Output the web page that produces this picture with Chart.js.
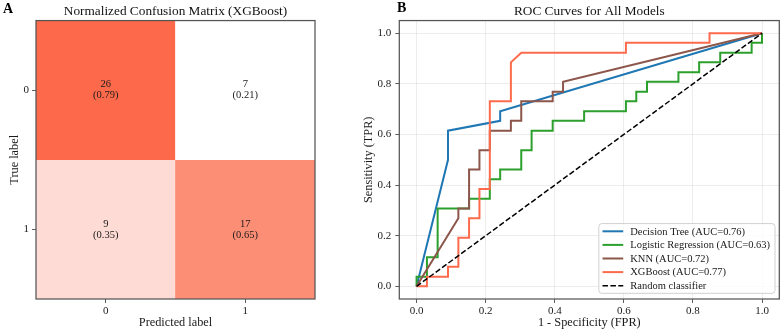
<!DOCTYPE html>
<html><head><meta charset="utf-8">
<script src="https://cdn.jsdelivr.net/npm/chart.js@4.4.1/dist/chart.umd.min.js"></script>
<style>
html,body{margin:0;padding:0;background:#fff;width:782px;height:332px;overflow:hidden}
canvas{position:absolute;top:0}
#cm{left:0;width:360px;height:332px}
#roc{left:360px;width:422px;height:332px}
</style></head><body>
<canvas id="cm" width="360" height="332"></canvas>
<canvas id="roc" width="422" height="332"></canvas>
<script>
// ---------- data: confusion matrix ----------
const cmLabels = ['0', '1'];
const cmTrue   = [0, 0, 1, 1];
const cmPred   = [0, 1, 0, 1];
const cmCounts = [26, 7, 9, 17];
const cmRates  = [0.79, 0.21, 0.35, 0.65];
const cmTitle  = 'Normalized Confusion Matrix (XGBoost)';

// ---------- data: ROC curves ----------
const rocTicks = [0, 0.2, 0.4, 0.6, 0.8, 1.0];
const dtFpr  = [0, 0.091, 0.091, 0.242, 0.242, 1];
const dtTpr  = [0, 0.5, 0.615, 0.654, 0.692, 1];
const lrFpr  = [0, 0, 0.030, 0.030, 0.061, 0.061, 0.152, 0.152, 0.212, 0.212, 0.242, 0.242, 0.303, 0.303, 0.333, 0.333, 0.394, 0.394, 0.485, 0.485, 0.606, 0.606, 0.636, 0.636, 0.667, 0.667, 0.758, 0.758, 0.818, 0.818, 0.879, 0.879, 0.970, 0.970, 1, 1];
const lrTpr  = [0, 0.038, 0.038, 0.115, 0.115, 0.308, 0.308, 0.346, 0.346, 0.423, 0.423, 0.462, 0.462, 0.538, 0.538, 0.615, 0.615, 0.654, 0.654, 0.692, 0.692, 0.731, 0.731, 0.769, 0.769, 0.808, 0.808, 0.846, 0.846, 0.885, 0.885, 0.923, 0.923, 0.962, 0.962, 1];
const knnFpr = [0, 0.121, 0.121, 0.152, 0.152, 0.182, 0.182, 0.212, 0.212, 0.273, 0.273, 0.303, 0.303, 0.394, 0.394, 0.424, 0.424, 1];
const knnTpr = [0, 0.269, 0.308, 0.308, 0.462, 0.462, 0.538, 0.538, 0.615, 0.615, 0.654, 0.654, 0.731, 0.731, 0.769, 0.769, 0.808, 1];
const xgbFpr = [0, 0.030, 0.030, 0.091, 0.091, 0.121, 0.121, 0.152, 0.152, 0.182, 0.182, 0.212, 0.212, 0.273, 0.273, 0.303, 0.606, 0.606, 0.848, 0.848, 1];
const xgbTpr = [0, 0, 0.038, 0.038, 0.077, 0.077, 0.192, 0.192, 0.269, 0.269, 0.385, 0.385, 0.731, 0.731, 0.885, 0.923, 0.923, 0.962, 0.962, 1, 1];
const randFpr = [0, 1];
const randTpr = [0, 1];
const modelNames = ['Decision Tree (AUC=0.76)', 'Logistic Regression (AUC=0.63)', 'KNN (AUC=0.72)', 'XGBoost (AUC=0.77)', 'Random classifier'];
const rocTitle = 'ROC Curves for All Models';

// ---------- styles ----------
const FONT = "'Liberation Serif','Times New Roman',serif";
const TXT = '#1a1a1a';
const CM_LOW = [255, 255, 255], CM_HIGH = [252, 106, 75];
const SPINE = '#555555';

function cmColor(v) {
  const lo = Math.min(...cmRates), hi = Math.max(...cmRates);
  const t = (v - lo) / (hi - lo);
  return 'rgb(' + CM_LOW.map((c, i) => Math.round(c + (CM_HIGH[i] - c) * t)).join(',') + ')';
}
const pts = (xs, ys) => xs.map((x, i) => ({x: x, y: ys[i]}));

const framePlugin = {
  id: 'frame',
  afterDatasetsDraw(chart) {
    const {ctx, chartArea: a} = chart;
    ctx.save();
    ctx.strokeStyle = SPINE; ctx.lineWidth = 1.25;
    ctx.strokeRect(a.left, a.top, a.right - a.left, a.bottom - a.top);
    ctx.restore();
  }
};
function panelLetter(letter, x, y) {
  return {
    id: 'letter' + letter,
    afterDraw(chart) {
      const ctx = chart.ctx;
      ctx.save();
      ctx.font = 'bold 14px ' + FONT; ctx.fillStyle = '#000';
      ctx.textAlign = 'left'; ctx.textBaseline = 'middle';
      ctx.fillText(letter, x, y);
      ctx.restore();
    }
  };
}

// ---------- confusion matrix ----------
const cmDatasets = cmLabels.map((_, r) => {
  const idx = cmTrue.map((t, i) => i).filter(i => cmTrue[i] === r);
  return {
    data: idx.map(i => ({x: cmLabels[cmPred[i]], y: [cmTrue[i] - 0.5, cmTrue[i] + 0.5]})),
    backgroundColor: idx.map(i => cmColor(cmRates[i])),
    borderWidth: 0, barPercentage: 1, categoryPercentage: 1, grouped: false
  };
});
const cmTextPlugin = {
  id: 'cmText',
  afterDatasetsDraw(chart) {
    const ctx = chart.ctx, xs = chart.scales.x, ys = chart.scales.y;
    ctx.save();
    ctx.font = '10.5px ' + FONT; ctx.fillStyle = TXT;
    ctx.textAlign = 'center'; ctx.textBaseline = 'middle';
    cmCounts.forEach((c, i) => {
      const px = xs.getPixelForValue(cmPred[i]);
      const py = ys.getPixelForValue(cmTrue[i]);
      ctx.fillText(String(c), px, py - 5.5);
      ctx.fillText('(' + cmRates[i].toFixed(2) + ')', px, py + 5.5);
    });
    ctx.restore();
  }
};
new Chart(document.getElementById('cm'), {
  type: 'bar',
  data: {labels: cmLabels, datasets: cmDatasets},
  options: {
    responsive: false, animation: false, devicePixelRatio: 1,
    layout: {padding: {left: 0, right: 45, top: 0, bottom: 0}},
    plugins: {
      legend: {display: false}, tooltip: {enabled: false},
      title: {display: true, text: cmTitle, fullSize: false, color: '#111',
        font: {family: FONT, size: 13.3, weight: 'normal', lineHeight: 1.17}, padding: {top: 4, bottom: 1}}
    },
    scales: {
      x: {
        type: 'category', offset: true,
        grid: {display: true, drawOnChartArea: false, offset: false, tickLength: 4, tickColor: '#333', tickWidth: 0.8},
        border: {display: false},
        ticks: {color: TXT, font: {family: FONT, size: 11}, padding: 2, maxRotation: 0},
        title: {display: true, text: 'Predicted label', color: TXT, font: {family: FONT, size: 12.3}, padding: {top: 0, bottom: 2}},
        afterFit(s) { s.height = 33; }
      },
      y: {
        type: 'linear', min: -0.5, max: 1.5, reverse: true,
        afterBuildTicks(s) { s.ticks = cmLabels.map((l, i) => ({value: i})); },
        grid: {display: true, drawOnChartArea: false, tickLength: 4, tickColor: '#333', tickWidth: 0.8},
        border: {display: false},
        ticks: {color: TXT, font: {family: FONT, size: 11}, padding: 3, callback: v => cmLabels[v]},
        title: {display: true, text: 'True label', color: TXT, font: {family: FONT, size: 12.3}, padding: {top: 7, bottom: 0}},
        afterFit(s) { s.width = 36; }
      }
    }
  },
  plugins: [cmTextPlugin, framePlugin, panelLetter('A', 3, 9)]
});

// ---------- ROC ----------
const rocColors = ['#1f77b4', '#2ca02c', '#8c564b', '#fd6b4c', '#000000'];
const rocSeries = [[dtFpr, dtTpr], [lrFpr, lrTpr], [knnFpr, knnTpr], [xgbFpr, xgbTpr], [randFpr, randTpr]];
const rocDatasets = rocSeries.map((s, i) => ({
  label: modelNames[i],
  data: pts(s[0], s[1]),
  showLine: true, fill: false, tension: 0,
  borderColor: rocColors[i], backgroundColor: rocColors[i],
  borderWidth: i === 4 ? 1.5 : 2,
  borderDash: i === 4 ? [5.5, 2.4] : [],
  pointRadius: 0, pointHoverRadius: 0,
  order: rocSeries.length - i
}));
const legendPlugin = {
  id: 'innerLegend',
  afterDraw(chart) {
    const {ctx, chartArea: a} = chart;
    const ds = chart.data.datasets;
    ctx.save();
    ctx.font = '10.5px ' + FONT;
    const maxW = Math.max(...ds.map(d => ctx.measureText(d.label).width));
    const w = 31.4 + maxW + 5, h = 69.7;
    const right = a.right - 4.3, bottom = a.bottom - 5.7;
    const left = right - w, top = bottom - h;
    ctx.beginPath();
    ctx.roundRect(left, top, w, h, 3);
    ctx.fillStyle = 'rgba(255,255,255,0.85)'; ctx.fill();
    ctx.strokeStyle = '#d0d0d0'; ctx.lineWidth = 1; ctx.stroke();
    ds.forEach((d, i) => {
      const y = top + 7.7 + i * 13.6;
      ctx.beginPath();
      ctx.setLineDash(d.borderDash || []);
      ctx.strokeStyle = d.borderColor; ctx.lineWidth = d.borderWidth;
      ctx.moveTo(left + 3.7, y); ctx.lineTo(left + 24.4, y); ctx.stroke();
      ctx.setLineDash([]);
      ctx.fillStyle = TXT; ctx.textAlign = 'left'; ctx.textBaseline = 'middle';
      ctx.fillText(d.label, left + 31.4, y + 0.5);
    });
    ctx.restore();
  }
};
const rocGrid = {display: true, drawOnChartArea: true, color: 'rgba(176,176,176,0.3)', lineWidth: 0.8, tickLength: 4, tickColor: '#333', tickWidth: 0.8};
new Chart(document.getElementById('roc'), {
  type: 'scatter',
  data: {datasets: rocDatasets},
  options: {
    responsive: false, animation: false, devicePixelRatio: 1,
    layout: {padding: {left: 0, right: 2.7, top: 0, bottom: 0}},
    plugins: {
      legend: {display: false}, tooltip: {enabled: false},
      title: {display: true, text: rocTitle, fullSize: false, color: '#111',
        font: {family: FONT, size: 13.3, weight: 'normal', lineHeight: 1.17}, padding: {top: 4, bottom: 1}}
    },
    scales: {
      x: {
        type: 'linear', min: -0.05, max: 1.05,
        afterBuildTicks(s) { s.ticks = rocTicks.map(v => ({value: v})); },
        grid: rocGrid, border: {display: false},
        ticks: {color: TXT, font: {family: FONT, size: 11}, padding: 2, maxRotation: 0, callback: v => v.toFixed(1)},
        title: {display: true, text: '1 - Specificity (FPR)', color: TXT, font: {family: FONT, size: 12.3}, padding: {top: 0, bottom: 2}},
        afterFit(s) { s.height = 33; }
      },
      y: {
        type: 'linear', min: -0.05, max: 1.05,
        afterBuildTicks(s) { s.ticks = rocTicks.map(v => ({value: v})); },
        grid: rocGrid, border: {display: false},
        ticks: {color: TXT, font: {family: FONT, size: 11}, padding: 4, callback: v => v.toFixed(1)},
        title: {display: true, text: 'Sensitivity (TPR)', color: TXT, font: {family: FONT, size: 12.3}, padding: {top: 1.5, bottom: 0}},
        afterFit(s) { s.width = 39.3; }
      }
    }
  },
  plugins: [framePlugin, legendPlugin, panelLetter('B', 37, 8)]
});
</script>
</body></html>
